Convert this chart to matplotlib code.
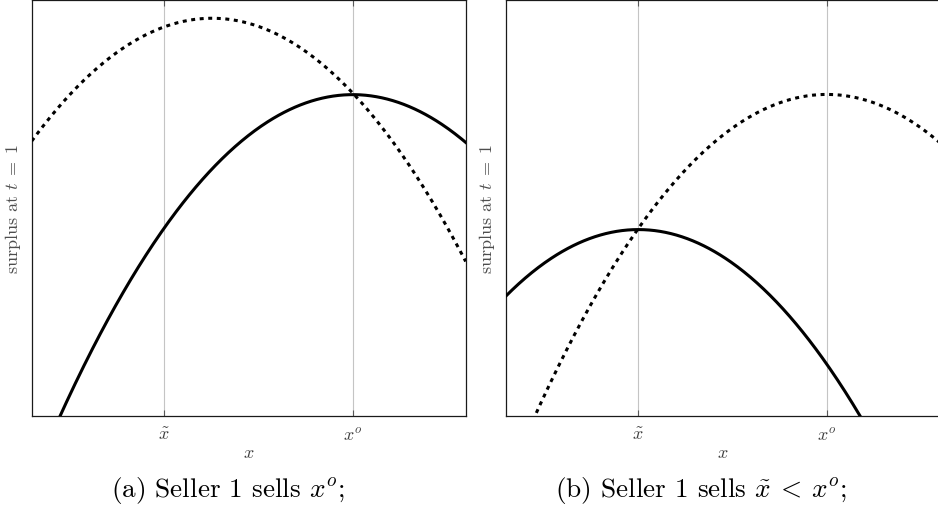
#!/usr/bin/env python3
# -*- coding: utf-8 -*-
# Two panels: surplus at t = 1 as a function of x (solid vs dotted curve)
import numpy as np
import matplotlib
matplotlib.use("Agg")
import matplotlib.pyplot as plt

plt.rcParams['font.family'] = 'serif'
plt.rcParams['font.serif'] = ['cmr10']
plt.rcParams['mathtext.fontset'] = 'cm'
plt.rcParams['axes.unicode_minus'] = False

# positions of the two marked quantities on the x axis (axis runs 0..1)
x_tilde = 0.305
x_opt = 0.740
tick_pos = [x_tilde, x_opt]
tick_labels = [r'$\tilde{x}$', r'$x^o$']

# points (x, surplus), axis runs 0..1 both ways
a_solid_x = [0.065, 0.303, 0.739, 1.0]
a_solid_y = [0.0, 0.448, 0.772, 0.657]
a_dotted_x = [0.0, 0.418, 0.739, 1.0]
a_dotted_y = [0.660, 0.956, 0.775, 0.372]

b_solid_x = [0.0, 0.305, 0.817]
b_solid_y = [0.288, 0.448, 0.0]
b_dotted_x = [0.067, 0.305, 0.740, 1.0]
b_dotted_y = [0.0, 0.450, 0.772, 0.657]

captions = [r'(a) Seller 1 sells $x^o$;', r'(b) Seller 1 sells $\tilde{x}\:<\:x^o$;']

W, H = 938, 510
fig = plt.figure(figsize=(W / 100, H / 100), dpi=100)

ax_a = fig.add_axes([31.7 / W, 92.7 / H, 434 / W, 416.8 / H])
ax_b = fig.add_axes([505.7 / W, 92.7 / H, 434 / W, 416.8 / H])

xs = np.linspace(0, 1, 400)


def parabola(px, py):
    # quadratic through the points
    c = np.polyfit(px, py, 2)
    return np.polyval(c, xs)


for ax, (sx, sy), (dx, dy) in [
        (ax_a, (a_solid_x, a_solid_y), (a_dotted_x, a_dotted_y)),
        (ax_b, (b_solid_x, b_solid_y), (b_dotted_x, b_dotted_y))]:
    for p in tick_pos:
        ax.axvline(p, color='#c4c4c4', lw=0.8, zorder=1)
    ax.plot(xs, parabola(sx, sy), color='black', lw=2.2, zorder=3)
    ax.plot(xs, parabola(dx, dy), color='black', lw=2.2, dashes=(1.3, 1.5), zorder=3)
    ax.set_xlim(0, 1)
    ax.set_ylim(0, 1)
    ax.set_yticks([])
    ax.set_xticks(tick_pos)
    ax.set_xticklabels(tick_labels, fontsize=13, color='0.25')
    ax.tick_params(axis='x', direction='in', length=4, width=0.8, color='0.35',
                   top=True, pad=7)
    for s in ax.spines.values():
        s.set_linewidth(0.9)
        s.set_color('0.1')
    ax.set_xlabel(r'$x$', fontsize=13, color='0.25')
    ax.xaxis.set_label_coords(0.5, -0.068)
    ax.set_ylabel(r'surplus at $t\;=\;1$', fontsize=13, color='0.3')
    ax.yaxis.set_label_coords(-0.02, 0.5)

fig.text(227.5 / W, (H - 497.5) / H, captions[0], fontsize=19.6, ha='center', va='baseline')
fig.text(701.5 / W, (H - 497.5) / H, captions[1], fontsize=19.6, ha='center', va='baseline')

plt.savefig('out.png', dpi=100)
